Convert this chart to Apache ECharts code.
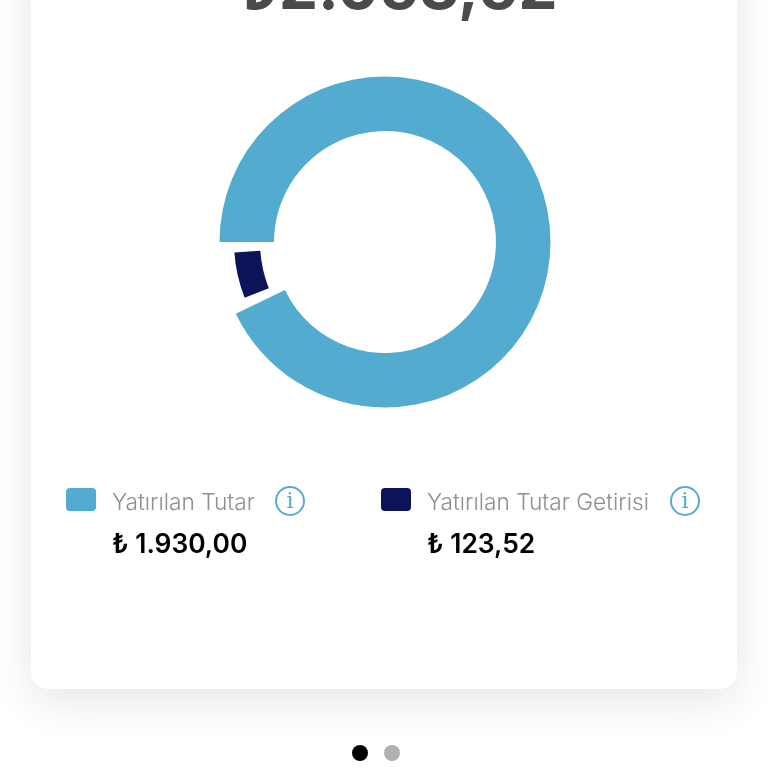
<!DOCTYPE html>
<html>
<head>
<meta charset="utf-8">
<style>html,body{margin:0;padding:0;background:#fff;overflow:hidden}#c{width:768px;height:768px}</style>
<script src="https://cdn.jsdelivr.net/npm/echarts@6/dist/echarts.min.js"></script>
</head>
<body>
<div id="c"></div>
<script>
// Portfolio breakdown
const categories = ['Yatırılan Tutar', 'Yatırılan Tutar Getirisi'];
const amounts = [1930.00, 123.52];
const sliceColors = ['#53abcf', '#0b1459'];
const totalLabel = '₺2.053,52';

const textFont = 'Inter, Roboto, sans-serif';
const iconColor = '#55accf';

function formatTry(v) {
  const [whole, frac] = v.toFixed(2).split('.');
  return '₺ ' + whole.replace(/\B(?=(\d{3})+$)/g, '.') + ',' + frac;
}

const legendX = [66, 381];
const infoX = [290, 685];

function legendEntry(i) {
  const x = legendX[i];
  return [
    { type: 'rect', shape: { x: x, y: 488, width: 30, height: 23, r: 4 }, style: { fill: sliceColors[i] } },
    { type: 'text', x: x + 46, y: 503, style: { text: categories[i], font: '300 22.7px ' + textFont, fill: '#8e8e93', textVerticalAlign: 'middle' } },
    { type: 'text', x: x + 46, y: 545, style: { text: formatTry(amounts[i]), font: '600 26.4px ' + textFont, fill: '#000', textVerticalAlign: 'middle' } },
    { type: 'circle', shape: { cx: infoX[i], cy: 501, r: 14 }, style: { fill: 'none', stroke: iconColor, lineWidth: 2 } },
    { type: 'text', x: infoX[i], y: 502, style: { text: 'i', font: '400 22px "DejaVu Serif", serif', fill: iconColor, textAlign: 'center', textVerticalAlign: 'middle' } }
  ];
}

// One ring per slice: each hides the other's share so the two can have their own widths.
function ring(radius, shownIndex) {
  return {
    type: 'pie',
    center: [385, 242],
    radius: radius,
    startAngle: 182,
    clockwise: true,
    padAngle: 4,
    silent: true,
    animation: false,
    label: { show: false },
    labelLine: { show: false },
    emphasis: { disabled: true },
    data: amounts.map((v, i) => ({
      value: v,
      name: categories[i],
      itemStyle: { color: i === shownIndex ? sliceColors[i] : 'transparent' }
    }))
  };
}

const chart = echarts.init(document.getElementById('c'), null, { renderer: 'canvas' });
chart.setOption({
  backgroundColor: '#fff',
  series: [ring([111, 165.5], 0), ring([125, 151], 1)],
  graphic: [
    { type: 'rect', z: -10, shape: { x: 31, y: -60, width: 706, height: 749, r: 18 },
      style: { fill: '#fff', shadowBlur: 44, shadowColor: 'rgba(0,0,0,0.10)', shadowOffsetY: 12 } },
    { type: 'text', x: 398, y: 21, style: { text: totalLabel, font: '700 62.4px ' + textFont, fill: '#4a4a4a', textAlign: 'center', textVerticalAlign: 'bottom' } },
    ...legendEntry(0),
    ...legendEntry(1),
    { type: 'circle', shape: { cx: 360, cy: 753, r: 8 }, style: { fill: '#000' } },
    { type: 'circle', shape: { cx: 392, cy: 753, r: 8 }, style: { fill: '#b0b0b0' } }
  ]
});
</script>
</body>
</html>
